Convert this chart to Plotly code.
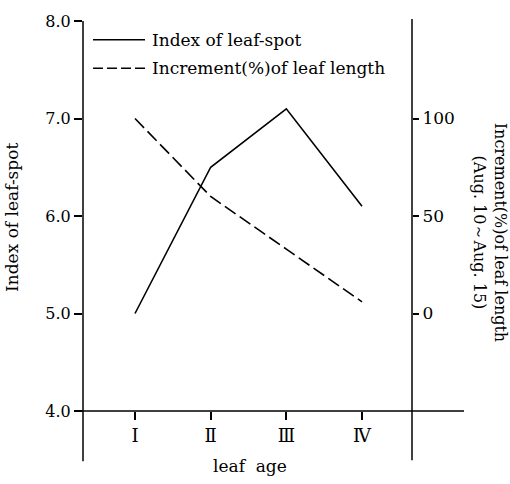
import plotly.graph_objects as go

# ---- data ----
leaf_age = [1, 2, 3, 4]
leaf_age_labels = ["Ⅰ", "Ⅱ", "Ⅲ", "Ⅳ"]
index_leaf_spot = [5.0, 6.5, 7.1, 6.1]
increment_pct = [100, 60, 33, 6]

left_ticks = [4.0, 5.0, 6.0, 7.0, 8.0]
left_tick_labels = ["4.0", "5.0", "6.0", "7.0", "8.0"]
right_ticks = [0, 50, 100]
right_tick_labels = ["0", "50", "100"]

name_spot = "Index of leaf-spot"
name_inc = "Increment(%)of leaf length"

FONT = "DejaVu Serif"
W, H = 510, 484
ML, MR, MT, MB = 83, 98, 15, 73
PW, PH = W - ML - MR, H - MT - MB


def px_x(px):
    return (px - ML) / PW


def px_y(py):
    return (H - MB - py) / PH


fig = go.Figure()
fig.add_trace(go.Scatter(x=leaf_age, y=index_leaf_spot, mode="lines", name=name_spot,
                         line=dict(color="black", width=1.6), showlegend=False))
fig.add_trace(go.Scatter(x=leaf_age, y=increment_pct, mode="lines", name=name_inc, yaxis="y2",
                         line=dict(color="black", width=1.6, dash="13px,5px"), showlegend=False))

line_style = dict(color="black", width=1.5)
shapes = [
    dict(type="line", xref="paper", yref="paper", x0=0, x1=0, y0=px_y(462), y1=1, line=line_style),
    dict(type="line", xref="paper", yref="paper", x0=1, x1=1, y0=px_y(461), y1=px_y(13), line=line_style),
    dict(type="line", xref="paper", yref="paper", x0=px_x(75), x1=px_x(464), y0=0, y1=0, line=line_style),
    # legend samples
    dict(type="line", xref="paper", yref="paper", x0=px_x(93), x1=px_x(145), y0=px_y(34), y1=px_y(34),
         line=dict(color="black", width=1.6)),
    dict(type="line", xref="paper", yref="paper", x0=px_x(93), x1=px_x(145), y0=px_y(63), y1=px_y(63),
         line=dict(color="black", width=1.6, dash="10px,4px")),
]

tf = dict(family=FONT, size=17, color="black")
tick_font = dict(family=FONT, size=16, color="black")
annotations = [
    dict(text=name_spot, xref="paper", yref="paper", x=px_x(150), y=px_y(34), xanchor="left",
         yanchor="middle", showarrow=False, font=tf),
    dict(text=name_inc, xref="paper", yref="paper", x=px_x(150), y=px_y(63), xanchor="left",
         yanchor="middle", showarrow=False, font=tf),
    dict(text="Index of leaf-spot", xref="paper", yref="paper", x=px_x(12), y=px_y(215),
         textangle=-90, showarrow=False, font=tf, xanchor="center", yanchor="middle"),
    dict(text="Increment(%)of leaf length<br>(Aug. 10～Aug. 15)", xref="paper", yref="paper",
         x=px_x(490), y=px_y(229), textangle=90, showarrow=False,
         font=dict(family=FONT, size=16, color="black"),
         xanchor="center", yanchor="middle"),
    dict(text="leaf  age", xref="paper", yref="paper", x=px_x(250), y=px_y(467),
         showarrow=False, font=tf, xanchor="center", yanchor="middle"),
]

step = (362 - 135) / 3
x_lo = 1 - (135 - ML) / step
x_hi = 4 + (ML + PW - 362) / step

fig.update_layout(
    width=W, height=H,
    margin=dict(l=ML, r=MR, t=MT, b=MB, pad=0),
    paper_bgcolor="white", plot_bgcolor="white",
    font=tf,
    showlegend=False,
    xaxis=dict(range=[x_lo, x_hi], tickvals=leaf_age, ticktext=leaf_age_labels,
               showline=False, showgrid=False, zeroline=False, ticks="outside", ticklen=8,
               tickwidth=1.5, tickcolor="black", tickfont=dict(family=FONT, size=18, color="black")),
    yaxis=dict(range=[4, 8], tickvals=left_ticks, ticktext=left_tick_labels,
               showline=False, showgrid=False, zeroline=False, ticks="outside", ticklen=8,
               tickwidth=1.5, tickcolor="black", tickfont=tick_font),
    yaxis2=dict(range=[-50, 150], tickvals=right_ticks, ticktext=right_tick_labels,
                overlaying="y", side="right", anchor="x",
                showline=False, showgrid=False, zeroline=False, ticks="outside", ticklen=6,
                tickwidth=1.5, tickcolor="black", tickfont=dict(family=FONT, size=17, color="black")),
    shapes=shapes,
    annotations=annotations,
)

fig.write_html("out.html")
